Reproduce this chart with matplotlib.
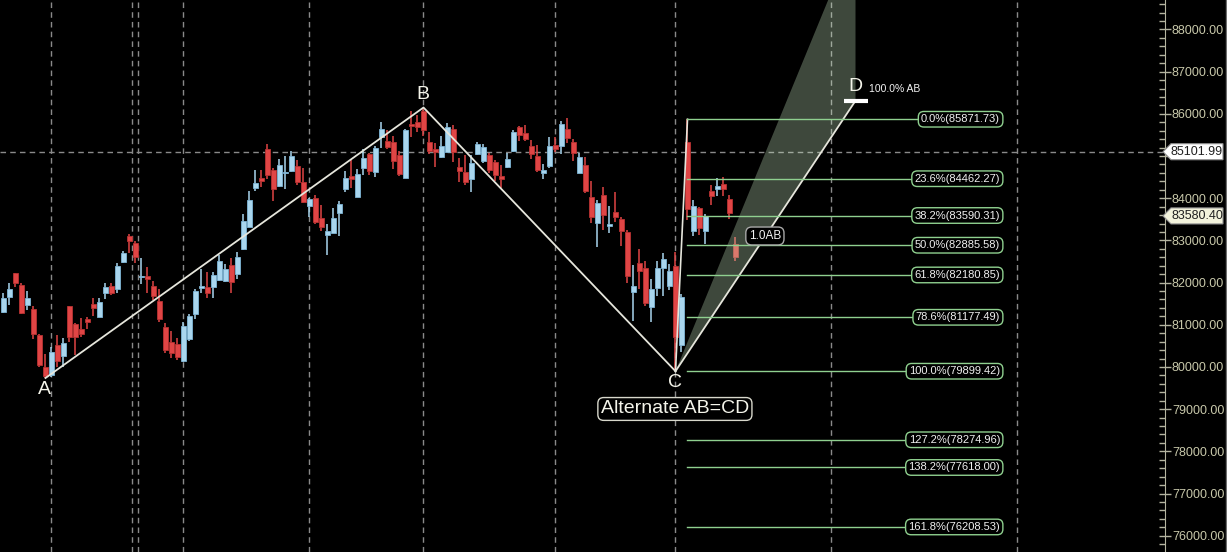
import matplotlib
matplotlib.use("Agg")
import matplotlib.pyplot as plt
import matplotlib.transforms as mtransforms
from matplotlib.patches import Polygon
from matplotlib.lines import Line2D
from matplotlib.ticker import MultipleLocator, FuncFormatter

plt.rcParams['font.family'] = ['Liberation Sans', 'DejaVu Sans']

# daily candles (open, high, low, close)
opens = [81304, 81659, 82228, 81943, 81469, 81375, 80758, 80000, 79810, 80521,
         80261, 81446, 81019, 80901, 81138, 81493, 81185, 81754, 81920, 81849,
         82489, 83105, 82939, 82133, 82157, 81920, 81564, 80948, 80593, 80545,
         80142, 80664, 81256, 81872, 81896, 81896, 82062, 82038, 82417, 82204,
         82797, 83318, 84242, 84479, 85167, 84669, 84290, 84598, 84645, 84764,
         84385, 83816, 84005, 83531, 83128, 83176, 83650, 84219, 84527, 84029,
         84716, 85048, 84622, 85451, 85356, 85333, 85024, 84479, 85759, 85807,
         86067, 85333, 85167, 84977, 85096, 85641, 84740, 84622, 84456, 85048,
         84882, 85024, 84859, 84527, 84740, 85119, 85688, 85546, 85238, 85001,
         84598, 84764, 85261, 85238, 85641, 85333, 84598, 84787, 84029, 83413,
         84076, 83342, 83674, 83508, 83200, 81778, 82465, 82346, 81422, 81872,
         82346, 81920, 82394, 80521, 85333, 83223, 83768, 83223, 84171, 84219,
         84337, 83982, 82915]
highs = [81754, 81991, 82228, 81991, 81801, 81446, 80782, 80308, 80474, 80758,
         80687, 81446, 81043, 81161, 81185, 81635, 81635, 81991, 81991, 82465,
         82749, 83152, 82986, 82583, 82370, 82038, 81849, 81043, 80853, 80687,
         81067, 81256, 81849, 82323, 82252, 82252, 82654, 82441, 82583, 82726,
         83626, 84171, 84669, 84669, 85285, 84716, 84930, 85001, 85119, 84906,
         84716, 84005, 84076, 83839, 83389, 83768, 83934, 84645, 84906, 84693,
         85167, 85072, 85238, 85807, 85617, 85475, 85119, 85641, 86067, 85972,
         86150, 85570, 85309, 85475, 85783, 85735, 84953, 85024, 85024, 85333,
         85285, 85072, 84906, 84787, 85072, 85617, 85712, 85735, 85380, 85261,
         84811, 85451, 85451, 85830, 85901, 85404, 85072, 84977, 84408, 83958,
         84266, 83816, 84148, 83555, 83247, 82417, 82797, 82512, 82086, 82512,
         82702, 82441, 82726, 81730, 85871.73, 83958, 83792, 83626, 84313, 84479,
         84503, 84076, 83081]
lows = [81280, 81469, 81896, 81256, 81351, 80664, 80000, 79739, 79763, 80000,
        80000, 80593, 80284, 80711, 80901, 81209, 81185, 81612, 81706, 81754,
        82465, 82702, 82465, 81967, 81754, 81588, 81067, 80332, 80213, 80166,
        80119, 80616, 81138, 81754, 81635, 81635, 82038, 82015, 81754, 82086,
        82773, 83318, 84171, 84266, 84456, 83934, 84266, 84219, 84622, 84313,
        83887, 83555, 83389, 83223, 82654, 83176, 83105, 84148, 84242, 84029,
        84550, 84550, 84503, 85190, 85167, 84693, 84527, 84479, 85451, 85570,
        85475, 85048, 84740, 84953, 85096, 84859, 84385, 84313, 84148, 85024,
        84835, 84598, 84408, 84242, 84716, 85096, 85356, 85356, 84930, 84622,
        84456, 84716, 85096, 85048, 85309, 84882, 84598, 84124, 83413, 82844,
        83247, 83176, 83437, 82868, 81991, 81090, 81849, 81446, 81067, 81683,
        81683, 81825, 79899.42, 80356, 83484, 83105, 83128, 82915, 83839, 84053,
        84053, 83508, 82512]
closes = [81635, 81849, 81991, 81280, 81635, 80782, 80047, 79787, 80356, 80142,
          80569, 80711, 80711, 80782, 81067, 81398, 81541, 81896, 81754, 82394,
          82702, 82986, 82607, 82157, 82086, 81683, 81138, 80403, 80332, 80237,
          80972, 81209, 81801, 81920, 81754, 82180, 82512, 82323, 82015, 82607,
          83460, 83958, 84361, 84408, 84550, 84219, 84787, 84622, 85001, 84385,
          83911, 83982, 83437, 83318, 83223, 83531, 83863, 84479, 84456, 84574,
          84953, 84645, 85190, 85641, 85214, 84882, 84574, 85617, 85712, 85688,
          85617, 85119, 85096, 85238, 85688, 85096, 84645, 84385, 84835, 85285,
          85214, 84669, 84550, 84456, 84930, 85570, 85498, 85404, 85048, 84669,
          84669, 85238, 85167, 85759, 85427, 85072, 84977, 84171, 83555, 83887,
          83602, 83389, 83555, 83223, 82157, 81920, 82275, 81517, 81849, 82346,
          82560, 82275, 80711, 81659, 83745, 83816, 83294, 83579, 84053, 84290,
          84219, 83650, 82607]

# pattern points (candle index, price)
a_idx, a_val = 7, 79739
b_idx, b_val = 70, 86150
c_idx, c_val = 112, 79899.42
d_idx = 142
hi_idx, hi_val = 114, 85871.73

fib_pcts = ['0.0%', '23.6%', '38.2%', '50.0%', '61.8%', '78.6%', '100.0%',
            '127.2%', '138.2%', '161.8%']
fib_vals = [85871.73, 84462.27, 83590.31, 82885.58, 82180.85, 81177.49,
            79899.42, 78274.96, 77618.00, 76208.53]

grid_x = [8, 21.5, 22.5, 30, 51, 70, 92, 112, 138, 169]
cross_val = 85101.99
last_val = 83580.40

UP = '#a9d6ee'
UP_EDGE = '#7fb6d6'
DN = '#e04545'
DN_EDGE = '#b83232'
FIB = '#8fd08f'
LINE = '#e6e6dc'
AXC = '#c8c8aa'

fig = plt.figure(figsize=(12.27, 5.52), dpi=100, facecolor='black')
ax = fig.add_axes([0, 0, 1165 / 1227, 1])
ax.set_facecolor('black')

ax.set_xlim(-3.5 / 6, (1165 - 3.5) / 6)
ax.set_ylim(75615, 88698)

# grid / crosshair
for gx in grid_x:
    ax.axvline(gx, color='#8a8a8a', lw=1, ls=(0, (4, 3)), zorder=1)
ax.axhline(cross_val, color='#8a8a8a', lw=1, ls=(0, (4, 3)), zorder=1)

# candles
for i in range(len(opens)):
    o, h, l, c = opens[i], highs[i], lows[i], closes[i]
    up = c >= o
    col = UP if up else DN
    ec = UP_EDGE if up else DN_EDGE
    ax.vlines(i, l, h, color=col, lw=1.1, zorder=2)
    bot = min(o, c)
    ht = max(abs(c - o), 30)
    ax.bar(i, ht, bottom=bot, width=0.8, color=col, edgecolor=ec, lw=0.6, zorder=3)

# AB=CD legs
ab = b_val - a_val
d_val = c_val + ab
d2_val = c_val + 1.618 * ab
ax.plot([a_idx, b_idx, c_idx], [a_val, b_val, c_val], color=LINE, lw=1.3, zorder=5)
ax.plot([c_idx, hi_idx], [c_val, hi_val], color=LINE, lw=1.2, zorder=5)

fan = Polygon([(c_idx, c_val), (d_idx, d2_val), (d_idx, d_val)], closed=True,
              facecolor='#cff0c8', alpha=0.3, edgecolor='none', zorder=4)
ax.add_patch(fan)
ax.plot([c_idx, d_idx], [c_val, d_val], color=LINE, lw=1.3, zorder=5)
ax.plot([d_idx - 1.9, d_idx + 2.1], [d_val, d_val], color='white', lw=3, zorder=6,
        solid_capstyle='butt')

# fib levels
for pct, val in zip(fib_pcts, fib_vals):
    ax.plot([hi_idx, 165], [val, val], color=FIB, lw=1, zorder=5)
    ax.text(166.1, val, f'{pct}({val:.2f})', ha='right', va='center', fontsize=8,
            color='#f0f0f0', zorder=7,
            bbox=dict(boxstyle='round,pad=0.25,rounding_size=0.5', fc='black',
                      ec=FIB, lw=1))

# point labels
ax.text(a_idx - 0.1, 79455, 'A', ha='center', va='center', fontsize=14, color='#f4f4ea', zorder=7)
ax.text(b_idx - 0.1, 86470, 'B', ha='center', va='center', fontsize=14, color='#f4f4ea', zorder=7)
ax.text(c_idx, 79621, 'C', ha='center', va='center', fontsize=14, color='#f4f4ea', zorder=7)
ax.text(d_idx, 86650, 'D', ha='center', va='center', fontsize=14, color='#f4f4ea', zorder=7)
ax.text(d_idx + 2.2, 86589, '100.0% AB', ha='left', va='center', fontsize=7.5,
        color='#f4f4f4', zorder=7)
ax.text(c_idx - 0.1, 79005, 'Alternate AB=CD', ha='center', va='center', fontsize=14,
        color='#f4f4ea', zorder=7,
        bbox=dict(boxstyle='round,pad=0.15,rounding_size=0.3', fc='black',
                  ec='#d8d8cc', lw=1))
ax.text(126.9, 83105, '1.0AB', ha='center', va='center', fontsize=8.5, color='#f4f4f4',
        zorder=7, bbox=dict(boxstyle='round,pad=0.25,rounding_size=0.5', fc='black',
                            ec='#a8a8a8', lw=1))


# price axis on the right; the label hidden under the crosshair marker is left out
def price_fmt(v, pos):
    if abs(v - cross_val) < 300 or abs(v - last_val) < 300:
        return ''
    return f'{v:.2f}'


for s in ['left', 'top', 'bottom']:
    ax.spines[s].set_visible(False)
ax.spines['right'].set_color('#b4b4a0')
ax.xaxis.set_visible(False)
ax.yaxis.tick_right()
ax.yaxis.set_major_locator(MultipleLocator(1000))
ax.yaxis.set_minor_locator(MultipleLocator(200))
ax.yaxis.set_major_formatter(FuncFormatter(price_fmt))
ax.tick_params(axis='y', which='major', direction='inout', length=8, width=1,
               colors='#b4b4a0', labelcolor=AXC, labelsize=9, pad=1)
ax.tick_params(axis='y', which='minor', direction='in', length=4, width=1,
               colors='#b4b4a0')

# price markers
tr = mtransforms.blended_transform_factory(ax.transAxes, ax.transData)
for val, fc in [(cross_val, '#ffffff'), (last_val, '#f3f3dc')]:
    h = 190
    x0 = 1163 / 1165
    x1 = 1171 / 1165
    x2 = 1223 / 1165
    poly = Polygon([(x0, val), (x1, val + h), (x2, val + h), (x2, val - h), (x1, val - h)],
                   closed=True, transform=tr, facecolor=fc, edgecolor='#909090', lw=0.8,
                   clip_on=False, zorder=10)
    ax.add_patch(poly)
    ax.text(1197 / 1165, val, f'{val:.2f}', transform=tr, ha='center', va='center',
            fontsize=9, color='#202020', clip_on=False, zorder=11)

fig.add_artist(Line2D([1225.5 / 1227] * 2, [0, 1], color='#6e6e6e', lw=1,
                      transform=fig.transFigure))

fig.savefig('out.png', dpi=100, facecolor='black')
